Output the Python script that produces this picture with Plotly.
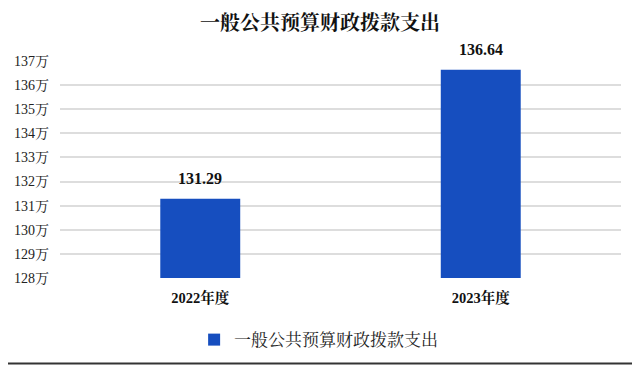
import plotly.graph_objects as go

categories = ["2022年度", "2023年度"]
values = [131.29, 136.64]
series_name = "一般公共预算财政拨款支出"
tick_vals = [128, 129, 130, 131, 132, 133, 134, 135, 136, 137]
tick_text = [f"{v}万" for v in tick_vals]

FONT = "Liberation Serif, Noto Serif CJK SC, Noto Sans CJK SC, serif"

fig = go.Figure()
fig.add_trace(go.Bar(
    x=categories, y=values, name=series_name,
    marker=dict(color="#164EBF", line=dict(width=0)),
    width=0.285,
    showlegend=True,
))

for c, v in zip(categories, values):
    fig.add_annotation(x=c, y=v, text=f"<b>{v:.2f}</b>", showarrow=False,
                       yanchor="bottom", yshift=10,
                       font=dict(family=FONT, size=16, color="#111111"))

fig.update_layout(
    width=640, height=365,
    margin=dict(l=52, r=27, t=53, b=95, autoexpand=False),
    paper_bgcolor="white", plot_bgcolor="white",
    title=dict(text="<b>一般公共预算财政拨款支出</b>", x=0.4875, xanchor="center",
               y=0.958, yanchor="middle",
               font=dict(family=FONT, size=20, color="#111111")),
    xaxis=dict(tickfont=dict(family=FONT, size=14.5, color="#111111", weight="bold"),
               showline=False, showgrid=False, ticks="", ticklabelstandoff=9,
               automargin=False),
    yaxis=dict(range=[128, 137], tickvals=tick_vals, ticktext=tick_text,
               showgrid=True, gridcolor="#DDDDDD", gridwidth=1.5,
               zeroline=False, showline=False, automargin=False,
               tickfont=dict(family=FONT, size=14, color="#222222"),
               ticklabelstandoff=10),
    legend=dict(orientation="h", x=0.461, xanchor="center", y=-0.286, yanchor="middle",
                font=dict(family=FONT, size=17, color="#222222")),
    bargap=0.7,
    shapes=[dict(type="line", xref="paper", yref="paper", x0=-0.2, x1=1.1,
                 y0=-0.394, y1=-0.394, line=dict(color="#333333", width=2))],
)

fig.write_html("out.html")
